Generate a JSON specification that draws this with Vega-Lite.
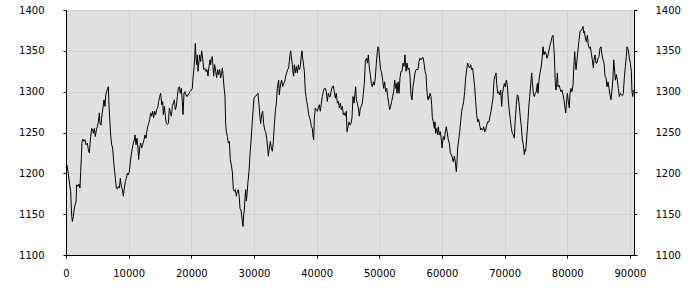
{
  "$schema": "https://vega.github.io/schema/vega-lite/v6.json",
  "width": 568,
  "height": 245,
  "autosize": {"type": "none"},
  "padding": {"left": 66, "top": 10, "right": 66, "bottom": 45},
  "background": "white",
  "config": {
    "view": {"fill": "#e0e0e0", "stroke": "black", "strokeWidth": 1},
    "axis": {
      "labelFont": "DejaVu Sans",
      "labelFontSize": 10,
      "labelColor": "black",
      "domainColor": "black",
      "tickColor": "black",
      "tickSize": 3,
      "gridColor": "#d2d2d2",
      "title": null
    }
  },
  "data": {"values": [
    {"x":0,"y":1207},{"x":160,"y":1210},{"x":319,"y":1202},{"x":585,"y":1186},{"x":745,"y":1178},{"x":905,"y":1149},{"x":1011,"y":1141},{"x":1171,"y":1147},{"x":1277,"y":1155},{"x":1437,"y":1161},{"x":1596,"y":1165},{"x":1703,"y":1186},{"x":1915,"y":1184},{"x":2075,"y":1187},{"x":2235,"y":1182},{"x":2341,"y":1202},{"x":2447,"y":1219},{"x":2554,"y":1239},{"x":2713,"y":1242},{"x":2873,"y":1239},{"x":3033,"y":1241},{"x":3192,"y":1235},{"x":3405,"y":1237},{"x":3565,"y":1229},{"x":3724,"y":1225},{"x":3831,"y":1235},{"x":3937,"y":1245},{"x":4097,"y":1255},{"x":4256,"y":1253},{"x":4363,"y":1249},{"x":4522,"y":1255},{"x":4682,"y":1245},{"x":4841,"y":1253},{"x":5001,"y":1257},{"x":5161,"y":1263},{"x":5320,"y":1274},{"x":5427,"y":1261},{"x":5586,"y":1259},{"x":5746,"y":1272},{"x":5905,"y":1280},{"x":6065,"y":1290},{"x":6225,"y":1282},{"x":6331,"y":1295},{"x":6491,"y":1300},{"x":6650,"y":1304},{"x":6757,"y":1306},{"x":6863,"y":1284},{"x":6969,"y":1268},{"x":7129,"y":1247},{"x":7289,"y":1235},{"x":7448,"y":1231},{"x":7608,"y":1214},{"x":7767,"y":1202},{"x":7874,"y":1194},{"x":8033,"y":1182},{"x":8193,"y":1181},{"x":8353,"y":1184},{"x":8512,"y":1182},{"x":8672,"y":1194},{"x":8831,"y":1184},{"x":8991,"y":1180},{"x":9151,"y":1172},{"x":9310,"y":1182},{"x":9470,"y":1190},{"x":9629,"y":1194},{"x":9789,"y":1200},{"x":9949,"y":1198},{"x":10108,"y":1202},{"x":10268,"y":1214},{"x":10427,"y":1223},{"x":10587,"y":1231},{"x":10747,"y":1237},{"x":10906,"y":1241},
    {"x":11013,"y":1247},{"x":11172,"y":1235},{"x":11332,"y":1243},{"x":11491,"y":1231},{"x":11598,"y":1217},{"x":11757,"y":1231},{"x":11917,"y":1237},{"x":12077,"y":1231},{"x":12236,"y":1235},{"x":12449,"y":1241},{"x":12609,"y":1247},{"x":12768,"y":1243},{"x":12875,"y":1250},{"x":13034,"y":1257},{"x":13194,"y":1261},{"x":13353,"y":1266},{"x":13513,"y":1274},{"x":13673,"y":1270},{"x":13832,"y":1276},{"x":13992,"y":1268},{"x":14151,"y":1276},{"x":14311,"y":1272},{"x":14471,"y":1278},{"x":14630,"y":1280},{"x":14790,"y":1288},{"x":14949,"y":1294},{"x":15109,"y":1298},{"x":15269,"y":1284},{"x":15428,"y":1288},{"x":15535,"y":1272},{"x":15694,"y":1282},{"x":15854,"y":1270},{"x":16013,"y":1261},{"x":16173,"y":1260},{"x":16333,"y":1261},{"x":16492,"y":1280},{"x":16652,"y":1274},{"x":16811,"y":1270},{"x":16971,"y":1282},{"x":17131,"y":1286},{"x":17290,"y":1290},{"x":17450,"y":1278},{"x":17609,"y":1282},{"x":17769,"y":1294},{"x":17929,"y":1304},{"x":18088,"y":1306},{"x":18248,"y":1298},{"x":18407,"y":1304},{"x":18567,"y":1288},{"x":18673,"y":1272},{"x":18833,"y":1298},{"x":18993,"y":1300},{"x":19152,"y":1296},{"x":19312,"y":1294},{"x":19471,"y":1296},{"x":19631,"y":1298},{"x":19791,"y":1300},{"x":20004,"y":1302},{"x":20163,"y":1304},{"x":20269,"y":1317},{"x":20429,"y":1329},{"x":20535,"y":1341},{"x":20642,"y":1359},{"x":20748,"y":1341},{"x":20855,"y":1333},{"x":20961,"y":1345},{"x":21067,"y":1325},{"x":21174,"y":1333},{"x":21333,"y":1345},{"x":21493,"y":1337},{"x":21653,"y":1350},{"x":21812,"y":1341},{"x":21972,"y":1327},{"x":22131,"y":1329},{"x":22291,"y":1325},{"x":22451,"y":1325},
    {"x":22504,"y":1327},{"x":22663,"y":1319},{"x":22823,"y":1331},{"x":22983,"y":1339},{"x":23089,"y":1333},{"x":23195,"y":1341},{"x":23355,"y":1343},{"x":23461,"y":1331},{"x":23568,"y":1319},{"x":23727,"y":1333},{"x":23887,"y":1325},{"x":24047,"y":1317},{"x":24206,"y":1327},{"x":24366,"y":1321},{"x":24525,"y":1327},{"x":24685,"y":1317},{"x":24845,"y":1323},{"x":24951,"y":1329},{"x":25057,"y":1321},{"x":25217,"y":1306},{"x":25377,"y":1294},{"x":25483,"y":1261},{"x":25589,"y":1251},{"x":25749,"y":1245},{"x":25909,"y":1237},{"x":26068,"y":1239},{"x":26228,"y":1217},{"x":26387,"y":1210},{"x":26547,"y":1202},{"x":26707,"y":1180},{"x":26866,"y":1178},{"x":27026,"y":1180},{"x":27185,"y":1172},{"x":27345,"y":1178},{"x":27505,"y":1180},{"x":27664,"y":1170},{"x":27771,"y":1157},{"x":27930,"y":1155},{"x":28090,"y":1145},{"x":28249,"y":1135},{"x":28356,"y":1149},{"x":28462,"y":1155},{"x":28569,"y":1170},{"x":28675,"y":1180},{"x":28781,"y":1166},{"x":28888,"y":1174},{"x":29047,"y":1190},{"x":29207,"y":1202},{"x":29367,"y":1223},{"x":29526,"y":1239},{"x":29686,"y":1259},{"x":29845,"y":1276},{"x":30005,"y":1292},{"x":30165,"y":1294},{"x":30324,"y":1295},{"x":30484,"y":1296},{"x":30643,"y":1298},{"x":30803,"y":1284},{"x":30963,"y":1268},{"x":31069,"y":1261},{"x":31229,"y":1272},{"x":31388,"y":1276},{"x":31548,"y":1261},{"x":31707,"y":1253},{"x":31867,"y":1251},{"x":32027,"y":1243},{"x":32186,"y":1231},{"x":32293,"y":1221},{"x":32452,"y":1231},{"x":32612,"y":1239},{"x":32771,"y":1231},{"x":32931,"y":1227},{"x":33091,"y":1239},{"x":33250,"y":1259},{"x":33410,"y":1276},{"x":33569,"y":1286},{"x":33729,"y":1304},
    {"x":33835,"y":1310},{"x":33942,"y":1314},{"x":34048,"y":1296},{"x":34155,"y":1304},{"x":34261,"y":1310},{"x":34421,"y":1314},{"x":34580,"y":1306},{"x":34740,"y":1310},{"x":34899,"y":1312},{"x":35059,"y":1319},{"x":35219,"y":1323},{"x":35378,"y":1327},{"x":35538,"y":1329},{"x":35644,"y":1337},{"x":35751,"y":1345},{"x":35857,"y":1350},{"x":35963,"y":1343},{"x":36123,"y":1333},{"x":36229,"y":1323},{"x":36336,"y":1319},{"x":36442,"y":1333},{"x":36602,"y":1323},{"x":36761,"y":1331},{"x":36921,"y":1323},{"x":37081,"y":1333},{"x":37240,"y":1327},{"x":37400,"y":1331},{"x":37559,"y":1345},{"x":37666,"y":1350},{"x":37772,"y":1341},{"x":37879,"y":1335},{"x":38038,"y":1325},{"x":38198,"y":1300},{"x":38304,"y":1294},{"x":38411,"y":1288},{"x":38570,"y":1282},{"x":38730,"y":1272},{"x":38889,"y":1268},{"x":39049,"y":1263},{"x":39155,"y":1257},{"x":39315,"y":1255},{"x":39421,"y":1245},{"x":39528,"y":1241},{"x":39634,"y":1268},{"x":39794,"y":1280},{"x":39953,"y":1278},{"x":40113,"y":1276},{"x":40273,"y":1280},{"x":40432,"y":1284},{"x":40592,"y":1276},{"x":40751,"y":1286},{"x":40911,"y":1294},{"x":41071,"y":1300},{"x":41230,"y":1304},{"x":41390,"y":1304},{"x":41549,"y":1300},{"x":41709,"y":1288},{"x":41869,"y":1298},{"x":42028,"y":1294},{"x":42188,"y":1294},{"x":42347,"y":1302},{"x":42507,"y":1306},{"x":42667,"y":1307},{"x":42826,"y":1300},{"x":42986,"y":1292},{"x":43145,"y":1298},{"x":43305,"y":1286},{"x":43465,"y":1288},{"x":43624,"y":1280},{"x":43784,"y":1286},{"x":43943,"y":1278},{"x":44103,"y":1282},{"x":44263,"y":1272},{"x":44422,"y":1274},{"x":44582,"y":1270},{"x":44741,"y":1276},
    {"x":44848,"y":1251},{"x":45007,"y":1257},{"x":45167,"y":1263},{"x":45327,"y":1259},{"x":45486,"y":1261},{"x":45646,"y":1268},{"x":45805,"y":1294},{"x":45965,"y":1286},{"x":46125,"y":1298},{"x":46231,"y":1306},{"x":46337,"y":1290},{"x":46497,"y":1286},{"x":46657,"y":1280},{"x":46816,"y":1270},{"x":46976,"y":1280},{"x":47135,"y":1282},{"x":47295,"y":1286},{"x":47455,"y":1298},{"x":47614,"y":1310},{"x":47774,"y":1337},{"x":47933,"y":1341},{"x":48093,"y":1335},{"x":48253,"y":1345},{"x":48412,"y":1329},{"x":48572,"y":1321},{"x":48731,"y":1310},{"x":48891,"y":1306},{"x":49051,"y":1312},{"x":49210,"y":1308},{"x":49370,"y":1317},{"x":49529,"y":1335},{"x":49689,"y":1349},{"x":49795,"y":1355},{"x":49902,"y":1353},{"x":50061,"y":1339},{"x":50221,"y":1327},{"x":50381,"y":1323},{"x":50540,"y":1314},{"x":50700,"y":1304},{"x":50859,"y":1312},{"x":51019,"y":1300},{"x":51179,"y":1304},{"x":51338,"y":1294},{"x":51498,"y":1286},{"x":51657,"y":1278},{"x":51817,"y":1282},{"x":51977,"y":1288},{"x":52136,"y":1294},{"x":52296,"y":1300},{"x":52455,"y":1314},{"x":52615,"y":1304},{"x":52721,"y":1310},{"x":52828,"y":1298},{"x":52987,"y":1312},{"x":53147,"y":1298},{"x":53307,"y":1317},{"x":53466,"y":1325},{"x":53626,"y":1325},{"x":53785,"y":1335},{"x":53945,"y":1331},{"x":54105,"y":1345},{"x":54264,"y":1325},{"x":54424,"y":1335},{"x":54583,"y":1327},{"x":54743,"y":1329},{"x":54903,"y":1319},{"x":55062,"y":1296},{"x":55222,"y":1290},{"x":55381,"y":1306},{"x":55541,"y":1314},{"x":55701,"y":1323},{"x":55860,"y":1327},{"x":56020,"y":1327},
    {"x":56179,"y":1327},{"x":56339,"y":1337},{"x":56499,"y":1341},{"x":56658,"y":1339},{"x":56818,"y":1341},{"x":56977,"y":1342},{"x":57137,"y":1335},{"x":57297,"y":1325},{"x":57456,"y":1321},{"x":57563,"y":1306},{"x":57669,"y":1296},{"x":57775,"y":1290},{"x":57882,"y":1294},{"x":57988,"y":1292},{"x":58095,"y":1298},{"x":58254,"y":1294},{"x":58361,"y":1284},{"x":58467,"y":1268},{"x":58627,"y":1263},{"x":58786,"y":1255},{"x":58893,"y":1263},{"x":58999,"y":1249},{"x":59159,"y":1255},{"x":59318,"y":1247},{"x":59425,"y":1257},{"x":59584,"y":1247},{"x":59744,"y":1251},{"x":59903,"y":1241},{"x":60010,"y":1231},{"x":60116,"y":1239},{"x":60223,"y":1245},{"x":60382,"y":1241},{"x":60542,"y":1251},{"x":60701,"y":1257},{"x":60861,"y":1249},{"x":61021,"y":1241},{"x":61180,"y":1237},{"x":61340,"y":1225},{"x":61499,"y":1223},{"x":61659,"y":1219},{"x":61819,"y":1214},{"x":61978,"y":1221},{"x":62138,"y":1214},{"x":62297,"y":1202},{"x":62404,"y":1214},{"x":62510,"y":1231},{"x":62670,"y":1241},{"x":62829,"y":1251},{"x":62989,"y":1263},{"x":63149,"y":1276},{"x":63308,"y":1282},{"x":63468,"y":1288},{"x":63627,"y":1300},{"x":63787,"y":1317},{"x":63947,"y":1327},{"x":64106,"y":1335},{"x":64266,"y":1331},{"x":64425,"y":1329},{"x":64585,"y":1333},{"x":64745,"y":1327},{"x":64904,"y":1329},{"x":65064,"y":1317},{"x":65223,"y":1306},{"x":65383,"y":1288},{"x":65543,"y":1272},{"x":65702,"y":1263},{"x":65862,"y":1266},{"x":66021,"y":1259},{"x":66181,"y":1253},{"x":66341,"y":1255},{"x":66500,"y":1253},{"x":66660,"y":1257},{"x":66819,"y":1251},{"x":66979,"y":1253},{"x":67139,"y":1259},{"x":67298,"y":1263},
    {"x":67511,"y":1263},{"x":67671,"y":1270},{"x":67830,"y":1276},{"x":67990,"y":1284},{"x":68149,"y":1292},{"x":68309,"y":1314},{"x":68469,"y":1319},{"x":68628,"y":1323},{"x":68735,"y":1310},{"x":68894,"y":1298},{"x":69054,"y":1300},{"x":69213,"y":1296},{"x":69373,"y":1302},{"x":69533,"y":1282},{"x":69639,"y":1296},{"x":69799,"y":1304},{"x":69958,"y":1310},{"x":70118,"y":1306},{"x":70277,"y":1314},{"x":70437,"y":1308},{"x":70597,"y":1290},{"x":70756,"y":1276},{"x":70916,"y":1266},{"x":71075,"y":1255},{"x":71235,"y":1249},{"x":71395,"y":1247},{"x":71554,"y":1243},{"x":71661,"y":1261},{"x":71767,"y":1272},{"x":71873,"y":1284},{"x":72033,"y":1296},{"x":72193,"y":1294},{"x":72352,"y":1282},{"x":72512,"y":1268},{"x":72671,"y":1257},{"x":72831,"y":1241},{"x":72991,"y":1235},{"x":73150,"y":1223},{"x":73257,"y":1229},{"x":73363,"y":1227},{"x":73523,"y":1243},{"x":73682,"y":1259},{"x":73842,"y":1280},{"x":74001,"y":1294},{"x":74161,"y":1308},{"x":74321,"y":1323},{"x":74427,"y":1312},{"x":74587,"y":1298},{"x":74746,"y":1294},{"x":74906,"y":1298},{"x":75065,"y":1300},{"x":75225,"y":1310},{"x":75331,"y":1298},{"x":75491,"y":1314},{"x":75651,"y":1323},{"x":75810,"y":1329},{"x":75970,"y":1339},{"x":76129,"y":1355},{"x":76289,"y":1345},{"x":76449,"y":1349},{"x":76608,"y":1347},{"x":76768,"y":1341},{"x":76927,"y":1345},{"x":77087,"y":1351},{"x":77247,"y":1357},{"x":77406,"y":1361},{"x":77566,"y":1367},{"x":77725,"y":1369},{"x":77832,"y":1357},{"x":77938,"y":1345},
    {"x":78098,"y":1308},{"x":78204,"y":1302},{"x":78311,"y":1310},{"x":78417,"y":1323},{"x":78523,"y":1306},{"x":78683,"y":1308},{"x":78843,"y":1304},{"x":79002,"y":1300},{"x":79162,"y":1302},{"x":79321,"y":1296},{"x":79481,"y":1290},{"x":79641,"y":1280},{"x":79747,"y":1274},{"x":79853,"y":1284},{"x":80013,"y":1298},{"x":80173,"y":1288},{"x":80332,"y":1280},{"x":80439,"y":1298},{"x":80598,"y":1304},{"x":80758,"y":1300},{"x":80917,"y":1308},{"x":81077,"y":1335},{"x":81183,"y":1349},{"x":81290,"y":1337},{"x":81396,"y":1327},{"x":81556,"y":1339},{"x":81715,"y":1351},{"x":81875,"y":1363},{"x":82035,"y":1374},{"x":82194,"y":1375},{"x":82354,"y":1376},{"x":82513,"y":1380},{"x":82620,"y":1372},{"x":82726,"y":1374},{"x":82886,"y":1366},{"x":83045,"y":1361},{"x":83205,"y":1369},{"x":83365,"y":1357},{"x":83524,"y":1353},{"x":83684,"y":1355},{"x":83843,"y":1347},{"x":84003,"y":1339},{"x":84163,"y":1329},{"x":84269,"y":1339},{"x":84429,"y":1345},{"x":84588,"y":1335},{"x":84748,"y":1335},{"x":84907,"y":1341},{"x":85067,"y":1343},{"x":85227,"y":1353},{"x":85386,"y":1355},{"x":85546,"y":1345},{"x":85705,"y":1339},{"x":85865,"y":1335},{"x":86025,"y":1319},{"x":86184,"y":1317},{"x":86344,"y":1306},{"x":86503,"y":1312},{"x":86663,"y":1304},{"x":86823,"y":1296},{"x":86982,"y":1290},{"x":87142,"y":1302},{"x":87301,"y":1317},{"x":87408,"y":1339},{"x":87514,"y":1331},{"x":87674,"y":1314},{"x":87833,"y":1321},{"x":87993,"y":1314},{"x":88153,"y":1304},{"x":88312,"y":1294},{"x":88472,"y":1298},{"x":88631,"y":1296},{"x":88791,"y":1295},{"x":88951,"y":1298},{"x":89110,"y":1317},{"x":89270,"y":1331},{"x":89429,"y":1343},{"x":89536,"y":1355},{"x":89642,"y":1353},{"x":89749,"y":1351},{"x":89908,"y":1341},{"x":90068,"y":1335},{"x":90227,"y":1325},{"x":90333,"y":1300},{"x":90440,"y":1294},{"x":90546,"y":1302},{"x":90652,"y":1300}
  ]},
  "layer": [
    {
      "mark": {"type": "line", "color": "black", "strokeWidth": 1},
      "encoding": {
        "x": {"field": "x", "type": "quantitative",
          "scale": {"domain": [0, 90652], "nice": false, "zero": false},
          "axis": {"values": [0,10000,20000,30000,40000,50000,60000,70000,80000,90000], "format": "d", "grid": true, "labelPadding": 10, "labelFlush": false, "labelOverlap": false}},
        "y": {"field": "y", "type": "quantitative",
          "scale": {"domain": [1100, 1400], "nice": false, "zero": false},
          "axis": {"values": [1100,1150,1200,1250,1300,1350,1400], "format": "d", "grid": true, "labelPadding": 19}}
      }
    },
    {
      "mark": {"type": "line", "strokeOpacity": 0},
      "encoding": {
        "x": {"field": "x", "type": "quantitative",
          "axis": {"values": [0,10000,20000,30000,40000,50000,60000,70000,80000,90000], "format": "d", "grid": true, "labelPadding": 10, "labelFlush": false, "labelOverlap": false}},
        "y": {"field": "y", "type": "quantitative",
          "axis": {"orient": "right", "values": [1100,1150,1200,1250,1300,1350,1400], "format": "d", "grid": false, "labelPadding": 18}}
      }
    }
  ],
  "resolve": {"axis": {"y": "independent"}}
}
